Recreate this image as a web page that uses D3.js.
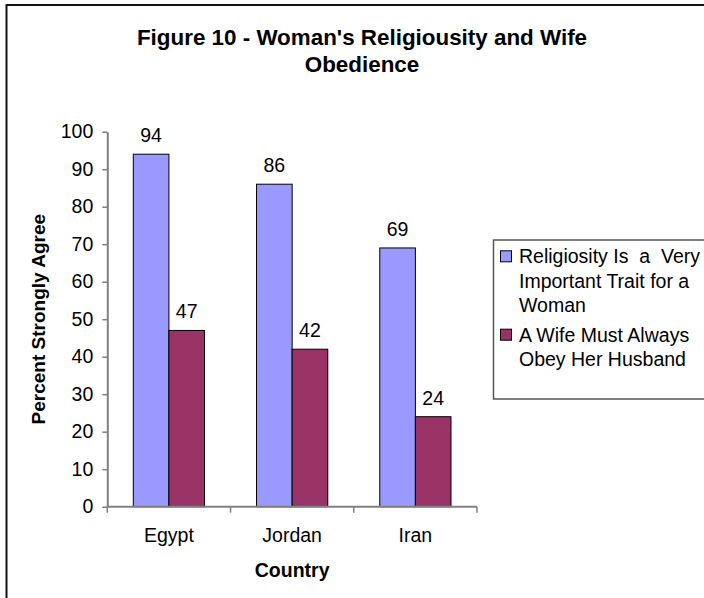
<!DOCTYPE html>
<html>
<head>
<meta charset="utf-8">
<script src="https://cdn.jsdelivr.net/npm/d3@7"></script>
<style>
  html, body { margin: 0; padding: 0; background: #fff; }
  svg { display: block; font-family: Arial, "Liberation Sans", sans-serif; }
</style>
</head>
<body>
<svg id="chart" width="704" height="598"></svg>
<script>
// Survey results: share who strongly agree, by country
const countries = ["Egypt", "Jordan", "Iran"];
const seriesNames = [
  "Religiosity Is a Very Important Trait for a Woman",
  "A Wife Must Always Obey Her Husband"
];
const religiosity = [94, 86, 69];
const obedience = [47, 42, 24];
const yTicks = [0, 10, 20, 30, 40, 50, 60, 70, 80, 90, 100];
const legendLines = [
  ["Religiosity Is  a  Very", "Important Trait for a", "Woman"],
  ["A Wife Must Always", "Obey Her Husband"]
];
const colors = ["#9999FF", "#993366"];

const svg = d3.select("#chart");

// outer chart frame (runs past the right and bottom edges)
svg.append("rect")
  .attr("x", 6.5).attr("y", 5)
  .attr("width", 712).attr("height", 620)
  .attr("fill", "#fff").attr("stroke", "#111").attr("stroke-width", 2);

// title
const title = svg.append("text")
  .attr("text-anchor", "middle")
  .attr("font-weight", "bold")
  .attr("font-size", 22.4)
  .attr("fill", "#000");
title.append("tspan").attr("x", 362).attr("y", 45).text("Figure 10 - Woman's Religiousity and Wife");
title.append("tspan").attr("x", 362).attr("y", 71.5).text("Obedience");

// scales
const x = d3.scaleBand().domain(countries).range([107.3, 477]).padding(0);
const xs = d3.scaleBand().domain([0, 1]).range([0, x.bandwidth()])
  .paddingInner(0).paddingOuter(0.73);
const y = d3.scaleLinear().domain([0, 100]).range([506.7, 131.7]);

const data = countries.map((c, i) => ({ country: c, values: [religiosity[i], obedience[i]] }));

// bars
const groups = svg.append("g").selectAll("g").data(data).join("g")
  .attr("transform", d => `translate(${x(d.country)},0)`);

groups.selectAll("rect").data(d => d.values.map((v, s) => ({ v, s }))).join("rect")
  .attr("x", d => xs(d.s))
  .attr("y", d => y(d.v))
  .attr("width", xs.bandwidth())
  .attr("height", d => y(0) - y(d.v))
  .attr("fill", d => colors[d.s])
  .attr("stroke", "#000").attr("stroke-width", 1);

// value labels
groups.selectAll("text.val").data(d => d.values.map((v, s) => ({ v, s }))).join("text")
  .attr("class", "val")
  .attr("x", d => xs(d.s) + xs.bandwidth() / 2)
  .attr("y", d => y(d.v) - 12)
  .attr("text-anchor", "middle")
  .attr("font-size", 19.5)
  .attr("fill", "#000")
  .text(d => d.v);

// y axis
const yAxis = svg.append("g")
  .attr("transform", `translate(${x.range()[0]},0)`)
  .call(d3.axisLeft(y).tickValues(yTicks).tickSize(5).tickPadding(9).tickSizeOuter(0));
yAxis.select(".domain").attr("stroke", "#808080").attr("stroke-width", 2);
yAxis.selectAll(".tick line").attr("stroke", "#808080").attr("stroke-width", 1.5);
yAxis.selectAll(".tick text").attr("font-size", 19.5).attr("fill", "#000")
  .attr("font-family", "Arial, 'Liberation Sans', sans-serif");

// x axis: line with ticks at category boundaries
const xAxis = svg.append("g");
const [x0, x1] = x.range();
xAxis.append("line")
  .attr("x1", x0).attr("x2", x1).attr("y1", y(0)).attr("y2", y(0))
  .attr("stroke", "#808080").attr("stroke-width", 2);
const bounds = countries.map(c => x(c)).concat([x1]);
xAxis.selectAll("line.bt").data(bounds).join("line")
  .attr("class", "bt")
  .attr("x1", d => d).attr("x2", d => d)
  .attr("y1", y(0)).attr("y2", y(0) + 6)
  .attr("stroke", "#808080").attr("stroke-width", 1.5);
xAxis.selectAll("text").data(countries).join("text")
  .attr("x", d => x(d) + x.bandwidth() / 2)
  .attr("y", 541.7)
  .attr("text-anchor", "middle")
  .attr("font-size", 19.5)
  .attr("fill", "#000")
  .text(d => d);

// axis titles
svg.append("text")
  .attr("transform", `translate(45,${(y(0) + y(100)) / 2}) rotate(-90)`)
  .attr("text-anchor", "middle")
  .attr("font-weight", "bold")
  .attr("font-size", 19)
  .attr("fill", "#000")
  .text("Percent Strongly Agree");

svg.append("text")
  .attr("x", (x0 + x1) / 2)
  .attr("y", 577)
  .attr("text-anchor", "middle")
  .attr("font-weight", "bold")
  .attr("font-size", 19.5)
  .attr("fill", "#000")
  .text("Country");

// legend
const legend = svg.append("g");
legend.append("rect")
  .attr("x", 493.5).attr("y", 240)
  .attr("width", 240).attr("height", 159)
  .attr("fill", "#fff").attr("stroke", "#555").attr("stroke-width", 1.5);

const legendTops = [263.3, 341.7];
const entries = legend.selectAll("g.entry").data(seriesNames).join("g").attr("class", "entry");
entries.append("rect")
  .attr("x", 500.5)
  .attr("y", (d, i) => legendTops[i] - 12.5)
  .attr("width", 11).attr("height", 11)
  .attr("fill", (d, i) => colors[i])
  .attr("stroke", "#000").attr("stroke-width", 1);
entries.each(function (d, i) {
  const t = d3.select(this).append("text")
    .attr("font-size", 19.5)
    .attr("fill", "#000")
    .style("white-space", "pre");
  legendLines[i].forEach((line, k) => {
    t.append("tspan").attr("x", 519).attr("y", legendTops[i] + k * 24.2).text(line);
  });
});
</script>
</body>
</html>
